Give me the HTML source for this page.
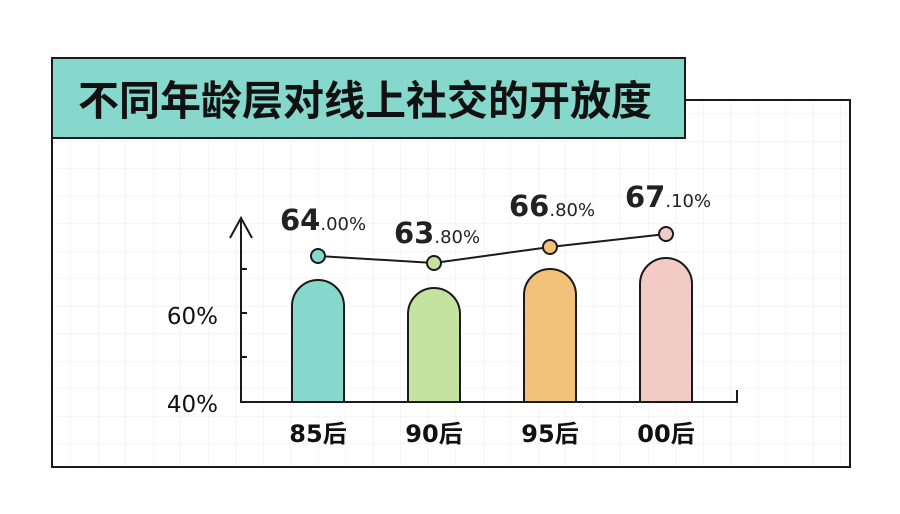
<!DOCTYPE html>
<html><head><meta charset="utf-8"><style>
body{margin:0;background:#fff;}
svg{display:block;}
</style></head><body>
<svg width="900" height="514" xmlns="http://www.w3.org/2000/svg" font-family="'DejaVu Sans','Noto Sans CJK SC',sans-serif">
<defs>
<pattern id="g" x="16" y="4" width="27.5" height="27.5" patternUnits="userSpaceOnUse">
<path d="M27.5 0V27.5M0 27.5H27.5" stroke="#ececec" stroke-width="1" fill="none"/>
</pattern>
</defs>
<rect x="52" y="100" width="798" height="367" fill="url(#g)"/>
<path d="M685 100H850V467H52V138" fill="none" stroke="#1a1a1a" stroke-width="2"/>
<rect x="52" y="58" width="633" height="80" fill="#86d7cc" stroke="#1a1a1a" stroke-width="2"/>
<text x="78" y="115" font-size="41" font-weight="bold" fill="#111" font-family="'Noto Sans CJK SC',sans-serif">不同年龄层对线上社交的开放度</text>
<path d="M241 218V402H737V390M230 238L241 218L252 238M241 269H247M241 313H247M241 357H247" fill="none" stroke="#1a1a1a" stroke-width="2"/>
<text x="218" y="324" font-size="23" text-anchor="end" fill="#111">60%</text>
<text x="218" y="412" font-size="23" text-anchor="end" fill="#111">40%</text>
<g stroke="#1a1a1a" stroke-width="2">
<path d="M292 402V306A26 26 0 0 1 344 306V402Z" fill="#86d7cc"/>
<path d="M408 402V314A26 26 0 0 1 460 314V402Z" fill="#c4e2a0"/>
<path d="M524 402V295A26 26 0 0 1 576 295V402Z" fill="#f3c27a"/>
<path d="M640 402V284A26 26 0 0 1 692 284V402Z" fill="#f1cbc4"/>
<polyline points="318,256 434,263 550,247 666,234" fill="none"/>
<circle cx="318" cy="256" r="7" fill="#86d7cc"/>
<circle cx="434" cy="263" r="7" fill="#c4e2a0"/>
<circle cx="550" cy="247" r="7" fill="#f3c27a"/>
<circle cx="666" cy="234" r="7" fill="#f1cbc4"/>
</g>
<g fill="#222">
<text x="280" y="230" font-size="29" font-weight="bold">64<tspan font-size="18" font-weight="normal">.00%</tspan></text>
<text x="394" y="243" font-size="29" font-weight="bold">63<tspan font-size="18" font-weight="normal">.80%</tspan></text>
<text x="509" y="216" font-size="29" font-weight="bold">66<tspan font-size="18" font-weight="normal">.80%</tspan></text>
<text x="625" y="207" font-size="29" font-weight="bold">67<tspan font-size="18" font-weight="normal">.10%</tspan></text>
</g>
<g font-size="24" font-weight="bold" text-anchor="middle" fill="#111">
<text x="318" y="442">85后</text>
<text x="434" y="442">90后</text>
<text x="550" y="442">95后</text>
<text x="666" y="442">00后</text>
</g>
</svg>
</body></html>
